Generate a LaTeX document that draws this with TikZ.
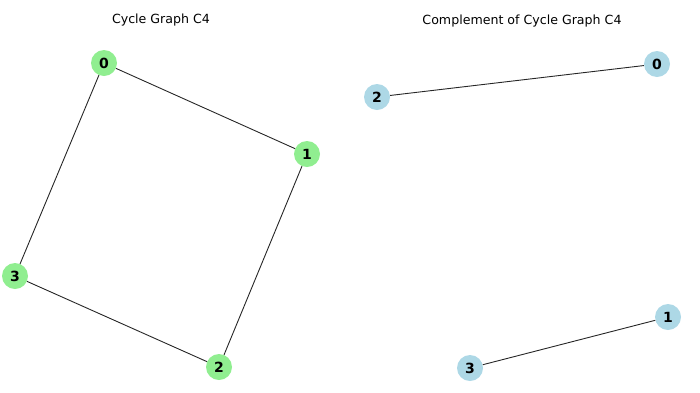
\documentclass[tikz,border=0pt]{standalone}
\usepackage{fontspec}
\setmainfont{DejaVu Sans}
\definecolor{lgreen}{HTML}{90EE90}
\definecolor{lblue}{HTML}{ADD8E6}
\tikzset{
  gnode/.style={circle,fill=lgreen,minimum size=26pt,inner sep=0pt,
    font=\bfseries\fontsize{14}{14}\selectfont},
  bnode/.style={gnode,fill=lblue},
  link/.style={draw=black!85,line width=0.9pt},
  ttl/.style={font=\fontsize{12.6}{14}\selectfont}
}
\begin{document}
\begin{tikzpicture}[x=1pt,y=-1pt]
  \useasboundingbox (0,0) rectangle (700,392);
  % cycle graph
  \node[ttl] (t1) at (161,20) {Cycle Graph C4};
  \node[gnode] (c0) at (104,63) {0};
  \node[gnode] (c1) at (307,154) {1};
  \node[gnode] (c2) at (219,367) {2};
  \node[gnode] (c3) at (15,276) {3};
  \draw[link] (c0)--(c1);
  \draw[link] (c1)--(c2);
  \draw[link] (c2)--(c3);
  \draw[link] (c3)--(c0);
  % complement
  \node[ttl] (t2) at (522,21) {Complement of Cycle Graph C4};
  \node[bnode] (k0) at (657,64) {0};
  \node[bnode] (k1) at (668,317) {1};
  \node[bnode] (k2) at (377,97) {2};
  \node[bnode] (k3) at (470,368) {3};
  \draw[link] (k0)--(k2);
  \draw[link] (k1)--(k3);
\end{tikzpicture}
\end{document}
